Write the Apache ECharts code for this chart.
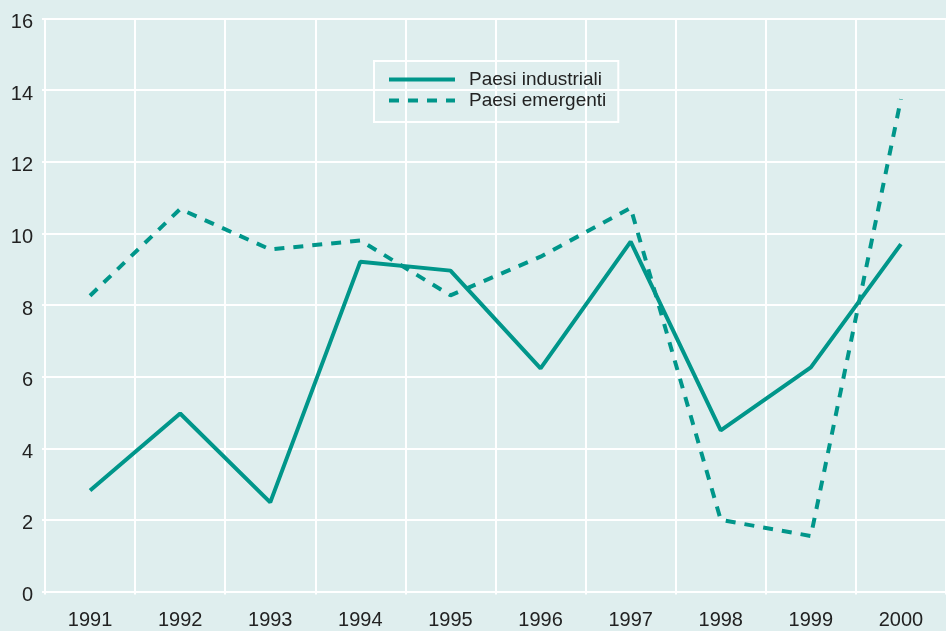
<!DOCTYPE html>
<html>
<head>
<meta charset="utf-8">
<script src="https://cdn.jsdelivr.net/npm/echarts@6/dist/echarts.min.js"></script>
<style>
  html, body { margin: 0; padding: 0; background: #dfeeee; }
  #chart { width: 946px; height: 631px; }
</style>
</head>
<body>
<div id="chart"></div>
<script>
// anni
var years = ['1991', '1992', '1993', '1994', '1995', '1996', '1997', '1998', '1999', '2000'];
// Paesi industriali
var industriali = [2.82, 4.97, 2.49, 9.21, 8.96, 6.23, 9.77, 4.5, 6.26, 9.7];
// Paesi emergenti
var emergenti = [8.26, 10.68, 9.55, 9.8, 8.27, 9.35, 10.71, 2.0, 1.55, 13.75];

var teal = '#00968a';
var font = '"Liberation Sans", Arial, sans-serif';

var chart = echarts.init(document.getElementById('chart'));
var option = {
  backgroundColor: '#dfeeee',
  animation: false,
  legend: {
    orient: 'vertical',
    left: 374,
    top: 61,
    padding: [9, 12, 12, 13],
    itemGap: 2,
    itemWidth: 66,
    itemHeight: 14,
    borderColor: '#ffffff',
    borderWidth: 2,
    itemStyle: { opacity: 0 },
    lineStyle: { width: 4 },
    textStyle: { fontFamily: font, fontSize: 19, color: '#222', padding: [0, 0, 0, 9] },
    data: ['Paesi industriali', 'Paesi emergenti']
  },
  grid: {
    left: 45,
    top: 18.5,
    bottom: 39.5,
    width: 906
  },
  xAxis: {
    type: 'category',
    data: years,
    boundaryGap: true,
    axisLine: { show: true, lineStyle: { color: '#fff', width: 2 } },
    axisTick: { show: true, length: 3, lineStyle: { color: '#fff', width: 2 } },
    splitLine: { show: true, lineStyle: { color: '#fff', width: 2 } },
    axisLabel: { fontFamily: font, fontSize: 20, color: '#222', margin: 19 }
  },
  yAxis: {
    type: 'value',
    min: 0,
    max: 16,
    interval: 2,
    axisLine: { show: false },
    axisTick: { show: true, length: 3, lineStyle: { color: '#fff', width: 2 } },
    splitLine: { show: true, lineStyle: { color: '#fff', width: 2 } },
    axisLabel: {
      fontFamily: font, fontSize: 20, color: '#222', margin: 12,
      verticalAlign: 'top', lineHeight: 8
    }
  },
  series: [
    {
      name: 'Paesi industriali',
      type: 'line',
      data: industriali,
      symbol: 'none',
      lineStyle: { color: teal, width: 4 },
      itemStyle: { color: teal }
    },
    {
      name: 'Paesi emergenti',
      type: 'line',
      data: emergenti,
      symbol: 'none',
      lineStyle: { color: teal, width: 4, type: [10, 9] },
      itemStyle: { color: teal }
    }
  ]
};
chart.setOption(option);
</script>
</body>
</html>
